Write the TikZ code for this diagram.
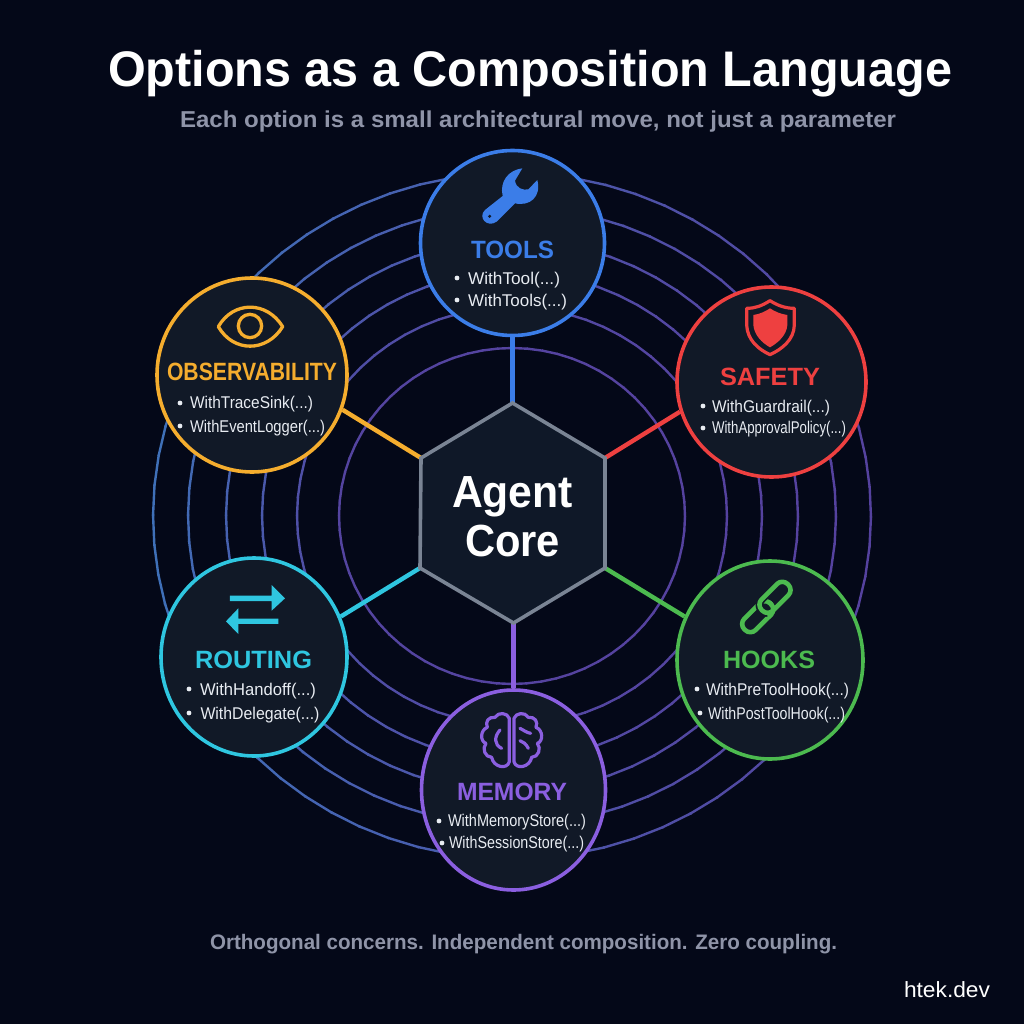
\documentclass[tikz,border=0pt]{standalone}
\usepackage{graphicx}
\usepackage{fontspec}
\setmainfont{Liberation Sans}
\usetikzlibrary{shapes.geometric}
\definecolor{bgc}{HTML}{040818}
\definecolor{cardc}{HTML}{111927}
\definecolor{hexfill}{HTML}{0F1828}
\definecolor{hexline}{HTML}{7A8494}
\definecolor{ringb}{HTML}{3F70B8}
\definecolor{ringp}{HTML}{55429F}
\definecolor{cblue}{HTML}{3B7DE8}
\definecolor{cyellow}{HTML}{F5AD2E}
\definecolor{cred}{HTML}{EE4040}
\definecolor{cgreen}{HTML}{4CBA4F}
\definecolor{ccyan}{HTML}{2FC6E0}
\definecolor{cpurple}{HTML}{8B5FE0}
\definecolor{optc}{HTML}{E8ECF2}
\definecolor{subc}{HTML}{8F94A8}
\newcommand{\ft}[2]{\resizebox{#1pt}{\height}{#2}}
\newcommand{\optline}[6]{% name, bullet x, text x, bullet y, baseline, (width,text)
  \fill[optc] (#2,#4) circle (2.4);
  \node[opttext] (#1) at (#3,#5) {#6};}
\tikzset{
  txt/.style={anchor=base west,inner sep=0pt,outer sep=0pt},
  opttext/.style={txt,text=optc,font=\fontsize{17}{20}\selectfont},
  headtext/.style={txt,font=\fontsize{25}{28}\selectfont\bfseries},
  card/.style={shape=ellipse,draw,fill=cardc,line width=3.6pt,inner sep=0pt},
  link/.style={line width=4.4pt},
  corehex/.style={fill=hexfill,draw=hexline,line width=3.6pt,line join=miter},
  chainlink/.style={cgreen,line width=4.6pt,rounded corners=7.4pt,line join=round},
  chainhalo/.style={cardc,line width=8pt,rounded corners=7.4pt,line join=round},
}
\begin{document}
\begin{tikzpicture}[x=1pt,y=-1pt]
\useasboundingbox (0,0) rectangle (1024,1024);
\fill[bgc] (0,0) rectangle (1024,1024);
% concentric rings
\foreach \rx/\ry/\t in {359/343/1.0,324/309/.85,286/276/.68,250/244/.5,215/209/.3,173/168/.05}{
  \foreach \a in {0,5,...,355}{
    \pgfmathsetmacro\w{100*\t*(0.5-0.5*cos(\a))}
    \colorlet{ringc}{ringb!\w!ringp}
    \draw[ringc,line width=2.4pt] ({512+\rx*cos(\a)},{516+\ry*sin(\a)}) -- ({512+\rx*cos(\a+5.3)},{516+\ry*sin(\a+5.3)});
  }
}
% hexagon corners
\coordinate (h1) at (512.5,403);
\coordinate (h2) at (605,458);
\coordinate (h3) at (605,568);
\coordinate (h4) at (513.5,623);
\coordinate (h5) at (420,568);
\coordinate (h6) at (421,458);
% cards
\node[card,draw=cblue,minimum width=184pt,minimum height=185pt] (tools) at (512.5,243) {};
\node[card,draw=cyellow,minimum width=190pt,minimum height=194pt] (obs) at (252,375) {};
\node[card,draw=cred,minimum width=189pt,minimum height=190pt] (safety) at (771.5,382) {};
\node[card,draw=cgreen,minimum width=186pt,minimum height=198pt] (hooks) at (770,660) {};
\node[card,draw=ccyan,minimum width=186pt,minimum height=198pt] (routing) at (254,657) {};
\node[card,draw=cpurple,minimum width=184pt,minimum height=200pt] (memory) at (513.5,790) {};
% connectors
\draw[link,cblue] (tools) -- (h1);
\draw[link,cyellow] (obs.-21) -- (h6);
\draw[link,cred] (safety.198) -- (h2);
\draw[link,cgreen] (hooks.153) -- (h3);
\draw[link,ccyan] (routing.25) -- (h5);
\draw[link,cpurple] (memory) -- (h4);
% hexagon
\draw[corehex] (h1) -- (h2) -- (h3) -- (h4) -- (h5) -- (h6) -- cycle;
\node[txt,text=white,font=\fontsize{45}{50}\selectfont\bfseries] (agent) at (452,507) {\ft{121}{Agent}};
\node[txt,text=white,font=\fontsize{45}{50}\selectfont\bfseries] (core) at (465,556) {\ft{95}{Core}};
% titles
\node[txt,text=white,font=\fontsize{50}{55}\selectfont\bfseries] (title) at (108,87) {\ft{844}{Options as a Composition Language}};
\node[txt,text=subc,font=\fontsize{23}{26}\selectfont\bfseries] (subtitle) at (180,128) {\ft{716}{Each option is a small architectural move, not just a parameter}};
\node[txt,text=subc,font=\fontsize{21}{24}\selectfont\bfseries] (footer) at (210,949) {\ft{627}{Orthogonal concerns. Independent composition. Zero coupling.}};
\node[txt,text=white,font=\fontsize{22}{24}\selectfont] (brand) at (904,997) {\ft{86}{htek.dev}};
% headings
\node[headtext,text=cblue] (toolsh) at (471,258) {\ft{83}{TOOLS}};
\node[headtext,text=cyellow] (obsh) at (167,380) {\ft{170}{OBSERVABILITY}};
\node[headtext,text=cred] (safetyh) at (720,385) {\ft{100}{SAFETY}};
\node[headtext,text=cgreen] (hooksh) at (723,668) {\ft{92}{HOOKS}};
\node[headtext,text=ccyan] (routingh) at (195,668) {\ft{117}{ROUTING}};
\node[headtext,text=cpurple] (memoryh) at (457,800) {\ft{110}{MEMORY}};
% option lines
\optline{t1}{457}{468}{278}{284}{\ft{92}{WithTool(...)}}
\optline{t2}{457}{468}{300}{306}{\ft{99}{WithTools(...)}}
\optline{o1}{180}{190}{403}{408}{\ft{123}{WithTraceSink(...)}}
\optline{o2}{180}{190}{426}{432}{\ft{135}{WithEventLogger(...)}}
\optline{s1}{703}{712}{406}{412}{\ft{118}{WithGuardrail(...)}}
\optline{s2}{703}{712}{428}{433}{\ft{134}{WithApprovalPolicy(...)}}
\optline{k1}{697}{706}{689}{695}{\ft{143}{WithPreToolHook(...)}}
\optline{k2}{700}{708}{713}{719}{\ft{137}{WithPostToolHook(...)}}
\optline{r1}{189}{200}{689}{695}{\ft{116}{WithHandoff(...)}}
\optline{r2}{189}{200.5}{713}{719}{\ft{119}{WithDelegate(...)}}
\optline{m1}{439}{448}{821}{826}{\ft{138}{WithMemoryStore(...)}}
\optline{m2}{442}{449}{843}{848}{\ft{135}{WithSessionStore(...)}}
% wrench icon
\begin{scope}[shift={(400,160)},scale=0.3333]
\fill[cblue] (367,25) .. controls (325,30) and (298,65) .. (308,108)
  -- (255,150) .. controls (232,172) and (262,205) .. (290,185)
  -- (345,130) .. controls (390,140) and (425,110) .. (412,60)
  -- (385,88) .. controls (370,92) and (348,85) .. (345,62) -- cycle;
\fill[cardc] (269,169) circle (5);
\end{scope}
% eye icon
\begin{scope}[shift={(140,270)},scale=0.3333]
\draw[cyellow,line width=3.3pt,line join=round] (235,170) .. controls (280,92) and (380,92) .. (428,170) .. controls (380,248) and (280,248) .. cycle;
\draw[cyellow,line width=3.3pt] (330,168) circle (35);
\end{scope}
% shield icon
\begin{scope}[shift={(660,290)},scale=0.3333]
\draw[cred,line width=3.2pt,line join=round] (330,32) .. controls (305,48) and (285,55) .. (260,55) -- (260,105) .. controls (262,150) and (295,178) .. (330,194) .. controls (365,178) and (402,150) .. (403,105) -- (403,55) .. controls (378,55) and (355,48) .. cycle;
\fill[cred] (330,55) .. controls (315,65) and (300,72) .. (280,75) -- (280,105) .. controls (283,135) and (305,158) .. (330,172) .. controls (355,158) and (380,135) .. (382,105) -- (382,75) .. controls (362,72) and (345,65) .. cycle;
\end{scope}
% chain icon
\begin{scope}[shift={(660,560)},scale=0.3333]
\draw[chainlink,rotate around={45:(293,170)}] (238,146) rectangle (348,194);
\draw[chainhalo,rotate around={45:(345,112)}] (290,88) rectangle (400,136);
\draw[chainlink,rotate around={45:(345,112)}] (290,88) rectangle (400,136);
\begin{scope}
\clip (322,120) rectangle (370,175);
\draw[chainlink,rotate around={45:(293,170)}] (238,146) rectangle (348,194);
\end{scope}
\end{scope}
% routing arrows icon
\begin{scope}[shift={(150,560)},scale=0.3333]
\fill[ccyan] (240,107) -- (365,107) -- (365,75) -- (405,115) -- (365,152) -- (365,123) -- (240,123) -- cycle;
\fill[ccyan] (385,176) -- (265,176) -- (265,145) -- (228,184) -- (265,222) -- (265,192) -- (385,192) -- cycle;
\end{scope}
% brain icon
\begin{scope}[shift={(400,680)},scale=0.3333,cpurple,line width=3.2pt,line cap=round,line join=round]
\draw (328,115) .. controls (322,98) and (295,95) .. (285,112) .. controls (265,110) and (255,125) .. (262,142) .. controls (240,150) and (240,185) .. (258,190) .. controls (245,205) and (255,232) .. (275,232) .. controls (280,262) and (322,270) .. (328,245) -- cycle;
\draw (342,115) .. controls (348,98) and (375,95) .. (385,112) .. controls (405,110) and (415,125) .. (408,142) .. controls (430,150) and (430,185) .. (412,190) .. controls (425,205) and (415,232) .. (395,232) .. controls (390,262) and (348,270) .. (342,245) -- cycle;
\draw (300,150) .. controls (282,170) and (282,195) .. (305,205);
\draw (360,145) .. controls (370,150) and (380,158) .. (392,160);
\draw (360,182) .. controls (370,185) and (378,192) .. (385,205);
\end{scope}
\end{tikzpicture}
\end{document}
